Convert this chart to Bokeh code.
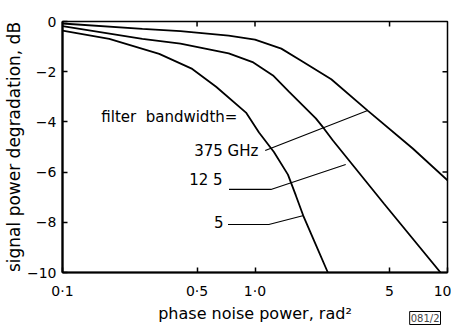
from bokeh.plotting import figure
from bokeh.models import FixedTicker, Label, Title
from bokeh.embed import file_html
from bokeh.resources import INLINE

# ---- data ----
bw375_x = [0.1, 0.26, 0.41, 0.73, 1.0, 1.37, 1.73, 2.49, 3.85, 6.6, 10.0]
bw375_y = [-0.08, -0.29, -0.38, -0.56, -0.72, -1.08, -1.55, -2.3, -3.55, -5.06, -6.33]

bw125_x = [0.1, 0.26, 0.41, 0.73, 0.98, 1.24, 1.5, 2.07, 2.28, 2.54, 4.67, 9.2]
bw125_y = [-0.18, -0.69, -0.88, -1.27, -1.63, -2.15, -2.79, -3.86, -4.26, -4.74, -7.25, -10.0]

bw5_x = [0.1, 0.175, 0.318, 0.472, 0.628, 0.898, 1.049, 1.254, 1.483, 1.63, 1.78, 2.05, 2.39]
bw5_y = [-0.36, -0.69, -1.29, -1.89, -2.6, -3.63, -4.42, -5.2, -6.1, -6.93, -7.73, -8.82, -10.0]

# leader lines from the labels to the curves
lead375_x = [1.13, 3.85]
lead375_y = [-5.14, -3.55]
lead125_x = [0.733, 1.21, 2.96]
lead125_y = [-6.69, -6.69, -5.70]
lead5_x = [0.724, 1.18, 1.79]
lead5_y = [-8.09, -8.09, -7.73]

x_ticks = [0.1, 0.5, 1.0, 5.0, 10.0]
x_tick_labels = ["0\u00b71", "0\u00b75", "1\u00b70", "5", "10"]
y_ticks = [0, -2, -4, -6, -8, -10]
y_tick_labels = ["0", "\u22122", "\u22124", "\u22126", "\u22128", "\u221210"]

FONT = "DejaVu Sans"

p = figure(width=451, height=326, x_axis_type="log", x_range=(0.1, 10), y_range=(-10, 0),
           output_backend="svg", toolbar_location=None,
           min_border_left=61, min_border_right=4, min_border_top=21, min_border_bottom=54)
p.grid.visible = False
p.background_fill_color = "white"
p.border_fill_color = "white"
p.outline_line_color = "black"
p.outline_line_width = 1.5

xa = p.xaxis[0]
xa.ticker = FixedTicker(ticks=x_ticks)
xa.major_label_overrides = {t: l for t, l in zip(x_ticks, x_tick_labels)}
xa.axis_label = "phase noise power, rad\u00b2"
ya = p.yaxis[0]
ya.ticker = FixedTicker(ticks=y_ticks)
ya.major_label_overrides = {t: l for t, l in zip(y_ticks, y_tick_labels)}
ya.axis_label = "signal power degradation, dB"

for ax in (xa, ya):
    ax.axis_line_width = 2.2
    ax.axis_line_color = "black"
    ax.major_tick_in = 5
    ax.major_tick_out = 0
    ax.major_tick_line_width = 1.5
    ax.minor_tick_line_color = None
    ax.major_label_text_font = FONT
    ax.major_label_text_font_size = "14px"
    ax.major_label_text_color = "black"
    ax.axis_label_text_font = FONT
    ax.axis_label_text_font_style = "normal"
    ax.axis_label_text_color = "black"
xa.major_label_standoff = 10
xa.axis_label_standoff = 2
xa.axis_label_text_font_size = "16px"
ya.major_label_standoff = 6
ya.axis_label_standoff = 0
ya.axis_label_text_font_size = "17px"

# figure code box under the axis, at the right
code = Title(text="081/2", align="right", vertical_align="top", standoff=-28, offset=7,
             text_font=FONT, text_font_size="10px", text_font_style="normal",
             border_line_color="black", border_line_width=1, padding=1)
p.add_layout(code, "below")

# inward ticks on the top and right edges of the frame (from the tick arrays)
tick_dy = 0.2
tick_fx = 10 ** (-5 / 193)
p.segment(x0=x_ticks[1:-1], x1=x_ticks[1:-1], y0=[0] * 3, y1=[-tick_dy] * 3,
          line_color="black", line_width=1.5)
p.segment(x0=[10] * 4, x1=[10 * tick_fx] * 4, y0=y_ticks[1:-1], y1=y_ticks[1:-1],
          line_color="black", line_width=1.5)

# curves
for xs, ys in ((bw375_x, bw375_y), (bw125_x, bw125_y), (bw5_x, bw5_y)):
    p.line(xs, ys, line_color="black", line_width=1.8)

# leaders
for xs, ys in ((lead375_x, lead375_y), (lead125_x, lead125_y), (lead5_x, lead5_y)):
    p.line(xs, ys, line_color="black", line_width=1.1)

def lab(x, y, text, size="15px", align="left", baseline="middle", **kw):
    l = Label(x=x, y=y, text=text, text_font=FONT, text_font_size=size,
              text_align=align, text_baseline=baseline, text_color="black", **kw)
    p.add_layout(l)

lab(0.159, -3.82, "filter\u00a0 bandwidth=")
lab(0.483, -5.16, "375 GHz")
lab(0.455, -6.33, "12 5")
lab(0.613, -7.97, "5")

open("out.html", "w").write(file_html(p, INLINE))
